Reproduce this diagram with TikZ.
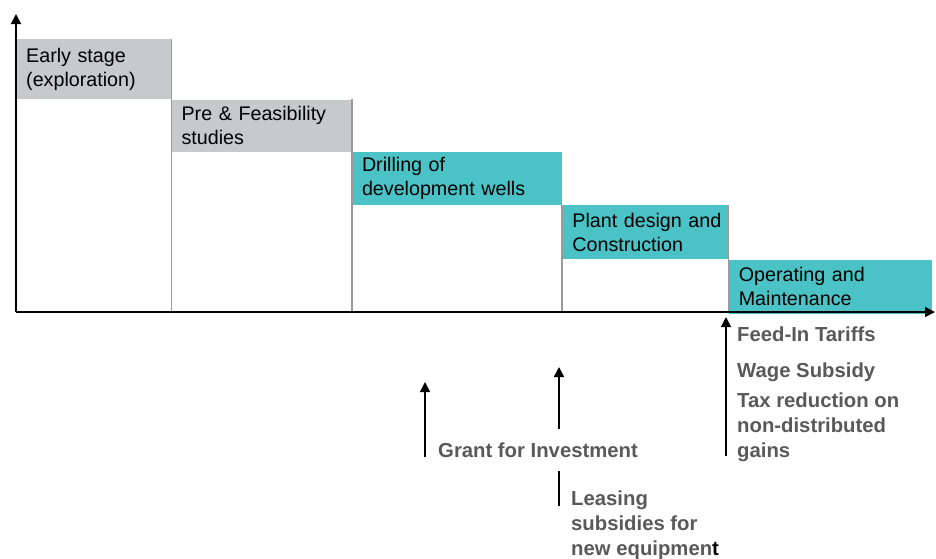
\documentclass[tikz,border=0pt]{standalone}
\usepackage{fontspec}
\setmainfont{Liberation Sans}
\usetikzlibrary{positioning,arrows.meta}
\definecolor{stagegray}{HTML}{C8C9CB}
\definecolor{stageteal}{HTML}{4BC3C6}
\definecolor{labelgray}{HTML}{595959}
\definecolor{edgegray}{HTML}{9A9A9C}

\begin{document}
\begin{tikzpicture}[
    x=1pt, y=-1pt,
    stage/.style={rectangle, anchor=north west, inner xsep=10pt, inner ysep=0pt,
        align=left, font=\fontsize{19.7}{24}\selectfont, text=black},
    early/.style={stage, fill=stagegray},
    late/.style={stage, fill=stageteal},
    tool/.style={anchor=north west, inner sep=0pt, align=left,
        font=\fontsize{20.3}{25}\selectfont\bfseries, text=labelgray},
    axis/.style={draw=black, line width=1.6pt, -{Triangle[width=10pt,length=10pt]}},
    push/.style={draw=black, line width=1.5pt, -{Triangle[width=10pt,length=10pt]}},
    divider/.style={draw=edgegray, line width=1.5pt}
]
\useasboundingbox (0,0) rectangle (936,558);

% axes
\coordinate (origin) at (16,312);
\coordinate (ytop) at (16,14);
\coordinate (xend) at (935,312);

% project stages
\node (s1) [early, text width=135pt, minimum height=60pt] at (16,39) {Early stage\\(exploration)};
\node (s2) [early, text width=160pt, minimum height=52pt] at (s1.south east) {Pre \& Feasibility\\studies};
\node (s3) [late, text width=190pt, minimum height=53pt] at (s2.south east) {Drilling of\\development wells};
\node (s4) [late, text width=146pt, minimum height=54pt] at (s3.south east) {\mbox{Plant design and}\\Construction};
\node (s5) [late, text width=183pt, minimum height=54pt] at (s4.south east) {Operating and\\Maintenance};

\draw[divider] (s1.north east) -- (s1.north east |- origin);
\draw[divider] (s2.north east) -- (s2.north east |- origin);
\draw[divider] (s3.south east) -- (s3.south east |- origin);
\draw[divider] (s4.north east) -- (s4.north east |- origin);

\draw[axis] (origin) -- (ytop);
\draw[axis] (origin) -- (xend);

% support instruments
\node (feed) [tool] at (737,326.5) {Feed-In Tariffs};
\node (wage) [tool] at (737,363) {Wage Subsidy};
\node (tax) [tool] at (737,393) {Tax reduction on\\non-distributed\\gains};
\node (grant) [tool] at (438,443) {Grant for Investment};
\node (lease) [tool] at (571,491) {Leasing\\subsidies for\\new equipmen\textcolor{black}{t}};

\coordinate (g0) at (425,457);
\coordinate (g1) at (425,382);
\coordinate (i0) at (559,429);
\coordinate (i1) at (559,367);
\coordinate (l0) at (559,471);
\coordinate (l1) at (559,506);
\coordinate (o0) at (726,456);
\coordinate (o1) at (726,317);

\draw[push] (g0) -- (g1);
\draw[push] (i0) -- (i1);
\draw[push] (o0) -- (o1);
\draw[draw=black, line width=1.5pt] (l0) -- (l1);

\end{tikzpicture}
\end{document}
